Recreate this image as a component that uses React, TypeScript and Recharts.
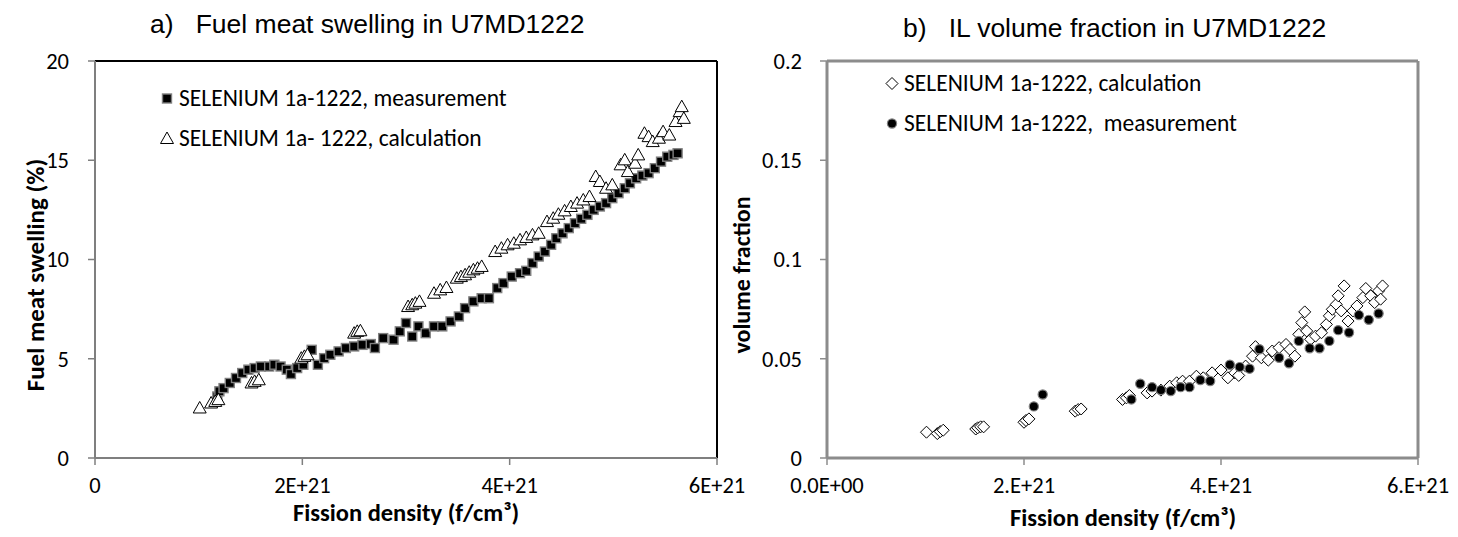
import React from 'react';
import { ScatterChart, Scatter, XAxis, YAxis, ReferenceLine, Legend } from 'recharts';

// fission density in units of 1E+21 f/cm3
const swellingMeasured: [number, number][] = [
  [1.18, 3.1], [1.2, 3.36], [1.24, 3.52], [1.3, 3.78], [1.36, 4.03], [1.42, 4.28], [1.48, 4.45],
  [1.54, 4.53], [1.6, 4.61], [1.68, 4.61], [1.73, 4.7], [1.79, 4.61], [1.85, 4.45], [1.89, 4.23],
  [1.95, 4.53], [2.01, 4.7], [2.09, 5.45], [2.15, 4.7], [2.21, 5.03], [2.27, 5.2], [2.35, 5.37],
  [2.42, 5.54], [2.5, 5.62], [2.58, 5.7], [2.66, 5.74], [2.7, 5.54], [2.78, 6.04], [2.88, 5.96],
  [2.94, 6.38], [3.0, 6.8], [3.06, 6.12], [3.12, 6.63], [3.19, 6.29], [3.27, 6.63], [3.35, 6.63],
  [3.43, 6.88], [3.51, 7.13], [3.57, 7.55], [3.65, 7.89], [3.73, 8.05], [3.8, 8.05], [3.88, 8.56],
  [3.94, 8.81], [4.02, 9.14], [4.1, 9.31], [4.16, 9.43], [4.22, 9.82], [4.28, 10.15], [4.34, 10.4],
  [4.4, 10.74], [4.45, 11.07], [4.51, 11.32], [4.57, 11.58], [4.63, 11.83], [4.69, 12.05],
  [4.75, 12.25], [4.81, 12.5], [4.87, 12.67], [4.93, 12.84], [4.99, 13.09], [5.05, 13.34],
  [5.11, 13.59], [5.16, 13.84], [5.22, 14.09], [5.28, 14.23], [5.34, 14.35], [5.4, 14.6],
  [5.46, 14.93], [5.52, 15.18], [5.58, 15.27], [5.62, 15.35],
];

const swellingCalculated: [number, number][] = [
  [1.01, 2.52], [1.12, 2.77], [1.16, 2.85], [1.19, 2.94], [1.51, 3.78], [1.54, 3.86], [1.58, 3.94],
  [1.99, 5.03], [2.02, 5.12], [2.05, 5.2], [2.5, 6.29], [2.53, 6.38], [2.56, 6.41],
  [3.02, 7.63], [3.06, 7.72], [3.09, 7.8], [3.13, 7.89], [3.27, 8.3], [3.33, 8.47], [3.39, 8.59],
  [3.49, 9.06], [3.53, 9.14], [3.57, 9.23], [3.61, 9.36], [3.65, 9.48], [3.69, 9.56], [3.73, 9.65],
  [3.86, 10.4], [3.92, 10.57], [3.98, 10.74], [4.04, 10.82], [4.1, 10.99], [4.16, 11.11],
  [4.22, 11.24], [4.28, 11.32], [4.36, 11.91], [4.42, 12.08], [4.47, 12.28], [4.53, 12.45],
  [4.59, 12.67], [4.65, 12.84], [4.71, 13.0], [4.77, 13.17], [4.83, 14.18], [4.87, 13.93],
  [4.93, 13.59], [4.99, 13.76], [5.07, 14.77], [5.11, 15.02], [5.14, 14.43], [5.21, 14.85],
  [5.24, 15.27], [5.3, 16.36], [5.34, 16.19], [5.38, 15.94], [5.44, 16.11], [5.48, 16.44],
  [5.54, 16.27], [5.6, 16.95], [5.64, 17.45], [5.66, 17.7], [5.68, 17.11],
];

const ilCalculated: [number, number][] = [
  [1.01, 0.013], [1.12, 0.0123], [1.15, 0.0133], [1.18, 0.014], [1.51, 0.0146], [1.53, 0.0152],
  [1.56, 0.0157], [1.59, 0.0157], [2.0, 0.018], [2.02, 0.0189], [2.05, 0.0197], [2.52, 0.0236],
  [2.55, 0.0244], [2.58, 0.0247], [3.0, 0.0295], [3.04, 0.0303], [3.07, 0.0315], [3.25, 0.0328],
  [3.3, 0.0337], [3.39, 0.0342], [3.48, 0.0362], [3.55, 0.0379], [3.61, 0.0387], [3.68, 0.0387],
  [3.75, 0.0412], [3.82, 0.0404], [3.91, 0.0429], [4.0, 0.0443], [4.07, 0.0404], [4.14, 0.0429],
  [4.18, 0.0416], [4.25, 0.0463], [4.32, 0.0513], [4.35, 0.0561], [4.41, 0.0505], [4.48, 0.0493],
  [4.52, 0.0539], [4.59, 0.0556], [4.66, 0.0572], [4.7, 0.0547], [4.75, 0.0513], [4.79, 0.0623],
  [4.82, 0.0682], [4.85, 0.0736], [4.87, 0.064], [4.91, 0.0598], [4.96, 0.0614], [5.02, 0.0631],
  [5.07, 0.0673], [5.1, 0.0716], [5.13, 0.0749], [5.17, 0.0774], [5.19, 0.0817], [5.25, 0.0867],
  [5.22, 0.0741], [5.29, 0.069], [5.34, 0.0741], [5.38, 0.0766], [5.44, 0.0808], [5.47, 0.0854],
  [5.52, 0.0817], [5.56, 0.0783], [5.6, 0.0842], [5.62, 0.08], [5.64, 0.0867],
];

const ilMeasured: [number, number][] = [
  [2.1, 0.026], [2.19, 0.032], [3.09, 0.0295], [3.18, 0.0374], [3.3, 0.0357], [3.39, 0.0342],
  [3.49, 0.0337], [3.59, 0.0357], [3.68, 0.0357], [3.79, 0.0393], [3.89, 0.0388], [4.09, 0.047],
  [4.19, 0.0458], [4.29, 0.045], [4.39, 0.0548], [4.59, 0.0505], [4.69, 0.0477], [4.79, 0.059],
  [4.9, 0.0553], [5.0, 0.0553], [5.1, 0.059], [5.19, 0.0644], [5.3, 0.0632], [5.4, 0.072],
  [5.5, 0.0696], [5.6, 0.0728],
];

const xTicks = [0, 2, 4, 6];
const swellingXLabels = ['0', '2E+21', '4E+21', '6E+21'];
const ilXLabels = ['0.0E+00', '2.E+21', '4.E+21', '6.E+21'];
const swellingYTicks = [0, 5, 10, 15, 20];
const ilYTicks = [0, 0.05, 0.1, 0.15, 0.2];

const CAL = 'Carlito, Calibri, Lato, sans-serif';
const ARIAL = '"Liberation Sans", Arial, sans-serif';

const toPoints = (arr: [number, number][]) => arr.map(([x, y]) => ({ x, y }));

const Square = (p: any) => (
  <rect x={p.cx - 4.5} y={p.cy - 4.5} width={9} height={9} fill="#000" stroke="#808080" strokeWidth={1.4} />
);
const Triangle = (p: any) => (
  <polygon
    points={`${p.cx},${p.cy - 6.5} ${p.cx + 6.5},${p.cy + 5} ${p.cx - 6.5},${p.cy + 5}`}
    fill="#fff"
    stroke="#000"
    strokeWidth={1}
  />
);
const Diamond = (p: any) => (
  <polygon
    points={`${p.cx},${p.cy - 6} ${p.cx + 6},${p.cy} ${p.cx},${p.cy + 6} ${p.cx - 6},${p.cy}`}
    fill="#fff"
    stroke="#000"
    strokeWidth={1}
  />
);
const Dot = (p: any) => <circle cx={p.cx} cy={p.cy} r={4.6} fill="#000" stroke="#808080" strokeWidth={1.2} />;

function LegendRows({ rows }: { rows: { label: string; Mark: (p: any) => React.ReactElement }[] }) {
  return (
    <div style={{ fontFamily: CAL, fontSize: 23.5, color: '#000' }}>
      {rows.map(({ label, Mark }) => (
        <div key={label} style={{ display: 'flex', alignItems: 'center', height: 40, whiteSpace: 'pre' }}>
          <svg width={14} height={14} style={{ marginRight: 5 }}>
            <Mark cx={7} cy={7.5} />
          </svg>
          <span>{label}</span>
        </div>
      ))}
    </div>
  );
}

const tickStyle = { fill: '#000', fontSize: 22.5, fontFamily: CAL };

export default function App() {
  const abs = (style: React.CSSProperties): React.CSSProperties => ({ position: 'absolute', whiteSpace: 'pre', ...style });
  return (
    <div style={{ position: 'absolute', left: 0, top: 0, width: 1458, height: 537, background: '#fff', overflow: 'hidden' }}>
      {/* a) fuel meat swelling */}
      <div style={{ position: 'absolute', left: 0, top: 0 }}>
        <ScatterChart width={765} height={537} margin={{ top: 61, right: 48, bottom: 39, left: 35 }}>
          <XAxis
            type="number"
            dataKey="x"
            domain={[0, 6]}
            ticks={xTicks}
            interval={0}
            tickFormatter={(v) => swellingXLabels[xTicks.indexOf(v)]}
            axisLine={{ stroke: '#7f7f7f', strokeWidth: 2 }}
            tickLine={{ stroke: '#7f7f7f', strokeWidth: 1.5 }}
            tickSize={7}
            tickMargin={12}
            tick={tickStyle}
            height={40}
          />
          <YAxis
            type="number"
            dataKey="y"
            domain={[0, 20]}
            ticks={swellingYTicks}
            interval={0}
            axisLine={{ stroke: '#7f7f7f', strokeWidth: 2 }}
            tickLine={{ stroke: '#7f7f7f', strokeWidth: 1.5 }}
            tickSize={7}
            tickMargin={19}
            tick={tickStyle}
            width={60}
          />
          <ReferenceLine y={20} stroke="#000" strokeWidth={2} />
          <ReferenceLine x={6} stroke="#000" strokeWidth={2} />
          <Legend
            layout="vertical"
            align="center"
            verticalAlign="middle"
            wrapperStyle={{ left: 160, top: 78 }}
            content={() => (
              <LegendRows
                rows={[
                  { label: 'SELENIUM 1a-1222, measurement', Mark: Square },
                  { label: 'SELENIUM 1a- 1222, calculation', Mark: Triangle },
                ]}
              />
            )}
          />
          <Scatter name="measurement" data={toPoints(swellingMeasured)} shape={Square} isAnimationActive={false} />
          <Scatter name="calculation" data={toPoints(swellingCalculated)} shape={Triangle} isAnimationActive={false} />
        </ScatterChart>
      </div>

      {/* b) IL volume fraction */}
      <div style={{ position: 'absolute', left: 730, top: 0 }}>
        <ScatterChart width={728} height={537} margin={{ top: 61, right: 40, bottom: 39, left: 27 }}>
          <XAxis
            type="number"
            dataKey="x"
            domain={[0, 6]}
            ticks={xTicks}
            interval={0}
            tickFormatter={(v) => ilXLabels[xTicks.indexOf(v)]}
            axisLine={{ stroke: '#8c8c8c', strokeWidth: 3 }}
            tickLine={{ stroke: '#8c8c8c', strokeWidth: 1.5 }}
            tickSize={7}
            tickMargin={12}
            tick={tickStyle}
            height={40}
          />
          <YAxis
            type="number"
            dataKey="y"
            domain={[0, 0.2]}
            ticks={ilYTicks}
            interval={0}
            axisLine={{ stroke: '#8c8c8c', strokeWidth: 3 }}
            tickLine={{ stroke: '#8c8c8c', strokeWidth: 1.5 }}
            tickSize={7}
            tickMargin={18}
            tick={tickStyle}
            width={70}
          />
          <ReferenceLine y={0.2} stroke="#8c8c8c" strokeWidth={3} />
          <ReferenceLine x={6} stroke="#8c8c8c" strokeWidth={3} />
          <Legend
            layout="vertical"
            align="center"
            verticalAlign="middle"
            wrapperStyle={{ left: 155, top: 63 }}
            content={() => (
              <LegendRows
                rows={[
                  { label: 'SELENIUM 1a-1222, calculation', Mark: Diamond },
                  { label: 'SELENIUM 1a-1222,  measurement', Mark: Dot },
                ]}
              />
            )}
          />
          <Scatter name="calculation" data={toPoints(ilCalculated)} shape={Diamond} isAnimationActive={false} />
          <Scatter name="measurement" data={toPoints(ilMeasured)} shape={Dot} isAnimationActive={false} />
        </ScatterChart>
      </div>

      {/* titles */}
      <div style={abs({ left: 150, top: 11, fontFamily: ARIAL, fontSize: 26.5, lineHeight: '26px' })}>
        {'a)   Fuel meat swelling in U7MD1222'}
      </div>
      <div style={abs({ left: 903, top: 15, fontFamily: ARIAL, fontSize: 26.5, lineHeight: '26px' })}>
        {'b)   IL volume fraction in U7MD1222'}
      </div>

      {/* axis titles */}
      <div style={abs({ left: 406, top: 513, transform: 'translate(-50%, -50%)', fontFamily: CAL, fontWeight: 700, fontSize: 24.5 })}>
        Fission density (f/cm³)
      </div>
      <div style={abs({ left: 1123, top: 518, transform: 'translate(-50%, -50%)', fontFamily: CAL, fontWeight: 700, fontSize: 24.5 })}>
        Fission density (f/cm³)
      </div>
      <div style={abs({ left: 35, top: 275, transform: 'translate(-50%, -50%) rotate(-90deg)', fontFamily: CAL, fontWeight: 700, fontSize: 25 })}>
        Fuel meat swelling (%)
      </div>
      <div style={abs({ left: 741, top: 275, transform: 'translate(-50%, -50%) rotate(-90deg)', fontFamily: CAL, fontWeight: 700, fontSize: 24 })}>
        volume fraction
      </div>
    </div>
  );
}
